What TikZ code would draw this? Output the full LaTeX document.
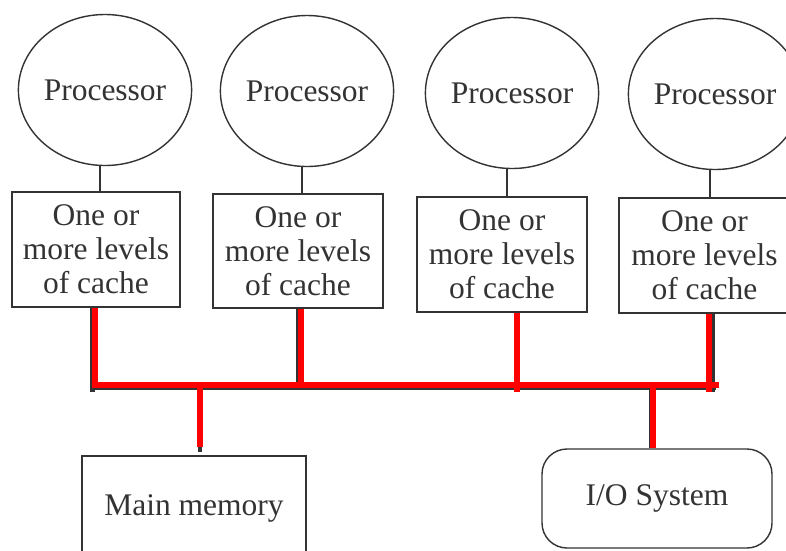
\documentclass[tikz,border=0pt]{standalone}
\usepackage{fontspec}
\setmainfont{Liberation Serif}
\usetikzlibrary{shapes.geometric,calc}
\definecolor{ink}{HTML}{333333}
\definecolor{busred}{HTML}{FF0000}
\begin{document}
\begin{tikzpicture}[x=1pt,y=-1pt,
  txt/.style={font=\fontsize{31.5}{34}\selectfont, text=ink},
  proc/.style={ellipse, draw=ink, line width=1.4pt, minimum width=161pt, minimum height=151pt, inner sep=0pt, txt},
  cache/.style={rectangle, draw=ink, line width=1.4pt, minimum width=170pt, minimum height=115pt, inner sep=0pt, align=center, txt},
  unit/.style={rectangle, draw=ink, line width=1.4pt, inner sep=0pt, txt},
  link/.style={draw=ink, line width=1.4pt},
  shadowline/.style={draw=ink, line width=4.5pt},
  redline/.style={draw=busred, line width=6.5pt}
]
\path[use as bounding box, clip] (0,0) rectangle (786,550);
\fill[white] (0,0) rectangle (786,550);

% processors
\node[proc] (p1) at (105,90) {Processor};
\node[proc] (p2) at (307,91) {Processor};
\node[proc] (p3) at (512,93) {Processor};
\node[proc] (p4) at (715,94) {Processor};

% caches
\node[cache, minimum width=168pt] (b1) at (96,249.5) {One or\\more levels\\of cache};
\node[cache, minimum width=170pt, minimum height=114pt] (b2) at (298,251) {One or\\more levels\\of cache};
\node[cache] (b3) at (502,254.5) {One or\\more levels\\of cache};
\node[cache, minimum width=171pt] (b4) at (704.5,255.5) {One or\\more levels\\of cache};

% processor-cache links
\foreach \i in {1,2,3,4}{
  \draw[link] ([xshift=-5pt]p\i.south) -- ([xshift=-5pt]p\i.south |- b\i.north);
}

% memory and I/O
\node[unit, minimum width=224pt, minimum height=104pt] (mm) at (194,508) {Main memory};
\node[unit, rounded corners=25pt, minimum width=230pt, minimum height=99pt] (io) at (657,498.5) {I/O System};

% bus coordinates
\coordinate (busL) at (95,385);
\coordinate (busR) at (716,385);
\coordinate (busLow) at (0,392);
\coordinate (jm) at (200,385);
\coordinate (ji) at (653,385);

% original dark lines (partly visible)
\draw[shadowline] ([xshift=-3.5pt]b1.south) -- ([xshift=-3.5pt]b1.south |- busLow);
\draw[shadowline] ([xshift=0.5pt]b2.south) -- ([xshift=0.5pt]b2.south |- busL);
\draw[shadowline] ([xshift=8.5pt]b4.south) -- ([xshift=8.5pt]b4.south |- busLow);
\draw[shadowline] ([yshift=-2.5pt]busL) -- ([yshift=-2.5pt]busR);
\draw[shadowline] (jm) -- ([yshift=3pt]jm |- mm.north);
\draw[shadowline] ([xshift=-2pt]ji) -- ([xshift=-2pt]ji |- io.north);

% red bus
\draw[redline] ([xshift=-1pt]b1.south) -- ([xshift=-1pt]b1.south |- busL);
\draw[redline] ([xshift=3pt]b2.south) -- ([xshift=3pt]b2.south |- busL);
\draw[redline] ([xshift=15pt]b3.south) -- ([xshift=15pt]b3.south |- busLow);
\draw[redline] ([xshift=4.5pt]b4.south) -- ([xshift=4.5pt]b4.south |- busLow);
\draw[redline] ([xshift=-3pt]busL) -- ([xshift=3pt]busR);
\draw[redline] (jm) -- ([yshift=8pt]jm |- mm.north);
\draw[redline] (ji) -- (ji |- io.north);
\end{tikzpicture}
\end{document}
